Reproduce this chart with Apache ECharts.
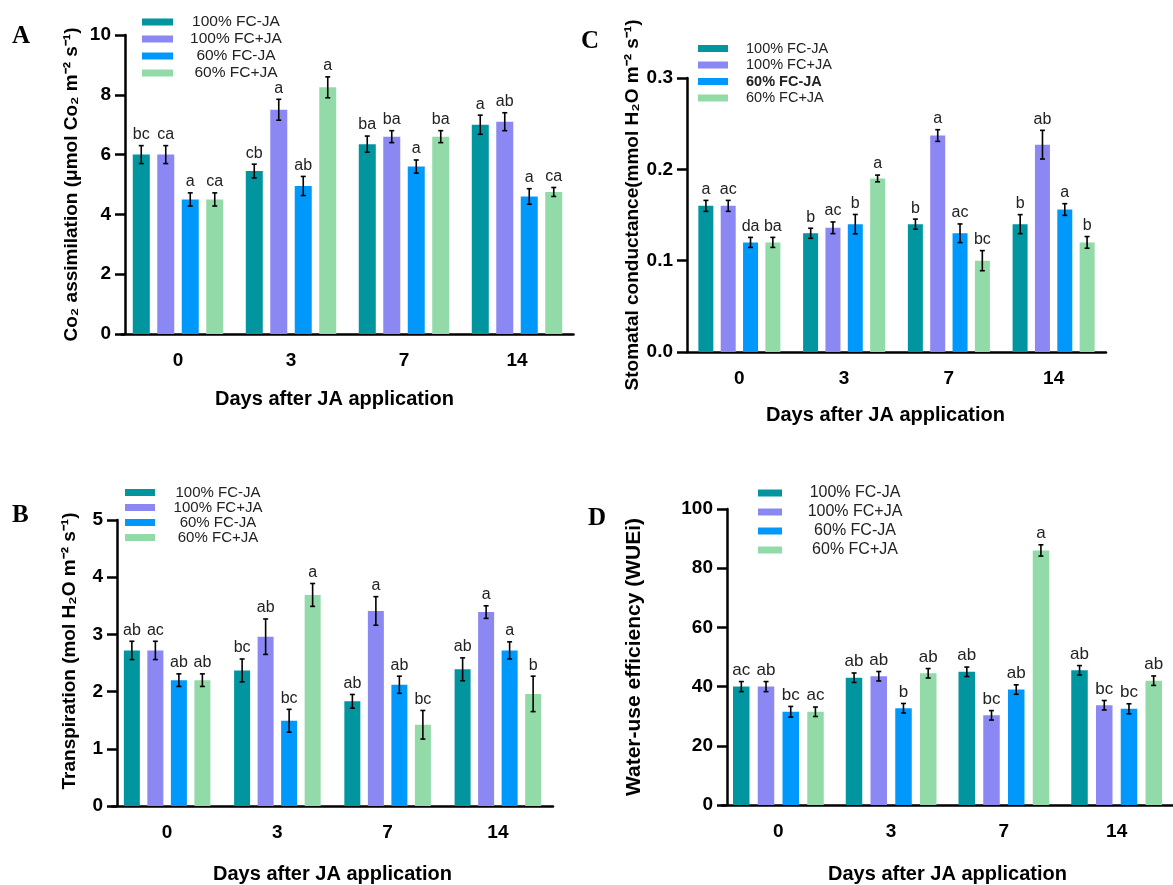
<!DOCTYPE html>
<html>
<head>
<meta charset="utf-8">
<script src="https://cdn.jsdelivr.net/npm/echarts@6/dist/echarts.min.js"></script>
<style>
  html, body { margin: 0; padding: 0; background: #fff; }
  #chart { width: 1173px; height: 885px; }
</style>
</head>
<body>
<div id="chart"></div>
<script>
// categories and treatments
const days = ['0', '3', '7', '14'];
const groups = ['100% FC-JA', '100% FC+JA', '60% FC-JA', '60% FC+JA'];

// A - CO2 assimilation (one row per treatment, one column per day)
const co2Mean = [[6.0, 5.45, 6.35, 7.0], [6.0, 7.5, 6.6, 7.1], [4.5, 4.95, 5.6, 4.6], [4.5, 8.25, 6.6, 4.75]];
const co2Err = [[0.3, 0.23, 0.27, 0.32], [0.3, 0.35, 0.2, 0.3], [0.22, 0.32, 0.22, 0.26], [0.22, 0.35, 0.2, 0.15]];
const co2Letters = [['bc', 'cb', 'ba', 'a'], ['ca', 'a', 'ba', 'ab'], ['a', 'ab', 'a', 'a'], ['ca', 'a', 'ba', 'ca']];

// B - transpiration
const trMean = [[2.72, 2.37, 1.83, 2.39], [2.72, 2.96, 3.41, 3.39], [2.2, 1.49, 2.12, 2.72], [2.2, 3.69, 1.42, 1.96]];
const trErr = [[0.16, 0.2, 0.12, 0.2], [0.16, 0.31, 0.25, 0.11], [0.11, 0.2, 0.15, 0.15], [0.11, 0.2, 0.25, 0.31]];
const trLetters = [['ab', 'bc', 'ab', 'ab'], ['ac', 'ab', 'a', 'a'], ['ab', 'bc', 'ab', 'a'], ['ab', 'a', 'bc', 'b']];

// C - stomatal conductance
const gsMean = [[0.16, 0.13, 0.14, 0.14], [0.16, 0.136, 0.237, 0.227], [0.12, 0.14, 0.13, 0.156], [0.12, 0.19, 0.10, 0.12]];
const gsErr = [[0.006, 0.0055, 0.0055, 0.0104], [0.006, 0.0064, 0.0064, 0.0157], [0.0055, 0.0106, 0.0102, 0.0064], [0.0055, 0.0037, 0.011, 0.0064]];
const gsLetters = [['a', 'b', 'b', 'b'], ['ac', 'ac', 'a', 'ab'], ['da', 'b', 'ac', 'a'], ['ba', 'a', 'bc', 'b']];

// D - water-use efficiency
const wueMean = [[40, 43, 45, 45.5], [40, 43.5, 30.3, 33.7], [31.5, 32.7, 39, 32.5], [31.5, 44.5, 86, 42]];
const wueErr = [[1.7, 1.6, 1.6, 1.6], [1.7, 1.6, 1.6, 1.6], [1.8, 1.6, 1.6, 1.7], [1.6, 1.6, 1.9, 1.6]];
const wueLetters = [['ac', 'ab', 'ab', 'ab'], ['ab', 'ab', 'bc', 'bc'], ['bc', 'b', 'ab', 'bc'], ['ac', 'ab', 'a', 'ab']];

const colors = ['#00959f', '#8b88f3', '#0099fb', '#92dba9'];
const FONT = "'Liberation Sans', Arial, sans-serif";

const panels = [
  { letter: 'A', mean: co2Mean, err: co2Err, letters: co2Letters,
    grid: { left: 121.5, top: 35, width: 452, height: 299 }, yOffset: -3.5,
    max: 10, interval: 2, digits: 0, barWidth: 17, pitch: 24.5,
    yName: 'Co₂ assimilation (μmol Co₂ m⁻² s⁻¹)', yGap: 44, yFont: 19, yPad: [0, 0, 0, 0],
    xGap: 55, xPad: [0, 26, 0, 0],
    letterPos: { left: 12, top: 24 },
    legend: { left: 142, top: 14, itemWidth: 31, itemGap: 1, textWidth: 116, align: 'center', fontSize: 15.5 } },
  { letter: 'B', mean: trMean, err: trErr, letters: trLetters,
    grid: { left: 112, top: 520, width: 441, height: 289 }, yOffset: -5,
    max: 5, interval: 1, digits: 0, barWidth: 16, pitch: 23.5,
    yName: 'Transpiration (mol H₂O m⁻² s⁻¹)', yGap: 38, yFont: 19, yPad: [0, 0, 0, 24],
    xGap: 58, xPad: [0, 0, 0, 0],
    letterPos: { left: 12, top: 503 },
    legend: { left: 125, top: 485, itemWidth: 30, itemGap: 0, textWidth: 116, align: 'center', fontSize: 15 } },
  { letter: 'C', mean: gsMean, err: gsErr, letters: gsLetters,
    grid: { left: 687, top: 78, width: 419, height: 274 }, yOffset: 0,
    max: 0.3, interval: 0.1, digits: 1, barWidth: 15, pitch: 22.3,
    yName: 'Stomatal conductance(mmol H₂O m⁻² s⁻¹)', yGap: 42, yFont: 19, yPad: [0, 0, 0, 20],
    xGap: 53, xPad: [0, 22, 0, 0],
    letterPos: { left: 581, top: 29 },
    legend: { left: 698, top: 41, itemWidth: 30, itemGap: 1.5, textWidth: 100, align: 'left', fontSize: 14.5, padLeft: 13 } },
  { letter: 'D', mean: wueMean, err: wueErr, letters: wueLetters,
    grid: { left: 722, top: 509, width: 459, height: 297 }, yOffset: -5,
    max: 100, interval: 20, digits: 0, barWidth: 16.5, pitch: 24.7,
    yName: 'Water-use efficiency (WUEi)', yGap: 82, yFont: 21, yPad: [0, 0, 0, 0],
    xGap: 59, xPad: [0, 0, 0, 0],
    letterPos: { left: 588, top: 506 },
    legend: { left: 758, top: 485, itemWidth: 24, itemGap: 3, textWidth: 136, align: 'center', fontSize: 16 } }
];

const option = {
  backgroundColor: '#fff',
  animation: false,
  title: [],
  legend: [],
  grid: [],
  xAxis: [],
  yAxis: [],
  series: []
};

panels.forEach((p, k) => {
  option.title.push({
    text: p.letter, left: p.letterPos.left, top: p.letterPos.top, padding: 0,
    textStyle: { fontFamily: "'Liberation Serif', 'Times New Roman', serif", fontWeight: 'bold', fontSize: 25, color: '#000' }
  });

  const lg = p.legend;
  option.legend.push({
    orient: 'vertical', left: lg.left, top: lg.top, padding: 0,
    icon: 'rect', itemWidth: lg.itemWidth, itemHeight: 7, itemGap: lg.itemGap,
    selectedMode: false,
    data: groups,
    formatter: name => (p.letter === 'C' && name === '60% FC-JA') ? '{b|' + name + '}' : '{t|' + name + '}',
    textStyle: {
      rich: {
        t: { width: lg.textWidth, align: lg.align, fontSize: lg.fontSize, lineHeight: lg.fontSize + 1,
             fontFamily: FONT, color: '#222', padding: [0, 0, 0, lg.padLeft || 0] },
        b: { width: lg.textWidth, align: lg.align, fontSize: lg.fontSize, lineHeight: lg.fontSize + 1,
             fontFamily: FONT, fontWeight: 'bold', color: '#222', padding: [0, 0, 0, lg.padLeft || 0] }
      }
    }
  });

  option.grid.push(p.grid);

  option.xAxis.push({
    gridIndex: k, type: 'category', data: days,
    axisLine: { lineStyle: { color: '#000', width: 2.5 } },
    axisTick: { alignWithLabel: true, length: 10, lineStyle: { color: '#000', width: 2.5 } },
    axisLabel: { color: '#000', fontWeight: 'bold', fontSize: 19, fontFamily: FONT, margin: 17 },
    name: 'Days after JA application', nameLocation: 'middle', nameGap: p.xGap,
    nameTextStyle: { color: '#000', fontWeight: 'bold', fontSize: 20, fontFamily: FONT, padding: p.xPad }
  });

  option.yAxis.push({
    gridIndex: k, type: 'value', min: 0, max: p.max, interval: p.interval, offset: p.yOffset,
    axisLine: { show: true, lineStyle: { color: '#000', width: 2.5 } },
    axisTick: { show: true, length: 10, lineStyle: { color: '#000', width: 2.5 } },
    axisLabel: { color: '#000', fontWeight: 'bold', fontSize: 19, fontFamily: FONT, margin: 14,
                 formatter: v => v.toFixed(p.digits) },
    splitLine: { show: false },
    name: p.yName, nameLocation: 'middle', nameGap: p.yGap,
    nameTextStyle: { color: '#000', fontWeight: 'bold', fontSize: p.yFont, fontFamily: FONT, padding: p.yPad }
  });

  const gapPct = Math.round((p.pitch - p.barWidth) / p.barWidth * 100) + '%';
  groups.forEach((g, s) => {
    option.series.push({
      name: g, type: 'bar', xAxisIndex: k, yAxisIndex: k,
      barWidth: p.barWidth, barGap: gapPct,
      itemStyle: { color: colors[s] },
      data: p.mean[s]
    });
  });

  // error bars + significance letters
  const errData = [];
  const letterList = [];
  groups.forEach((g, s) => {
    days.forEach((d, c) => {
      errData.push([c, s, p.mean[s][c], p.err[s][c]]);
      letterList.push(p.letters[s][c]);
    });
  });
  option.series.push({
    type: 'custom', xAxisIndex: k, yAxisIndex: k, z: 10,
    encode: { x: 0, y: 2 },
    data: errData,
    renderItem: (params, api) => {
      const c = api.value(0), s = api.value(1), m = api.value(2), e = api.value(3);
      const x = api.coord([c, m])[0] + (s - 1.5) * p.pitch;
      const yTop = api.coord([c, m + e])[1];
      const yBot = api.coord([c, m - e])[1];
      const ls = { stroke: '#000', lineWidth: 1.6 };
      return {
        type: 'group',
        children: [
          { type: 'line', shape: { x1: x, y1: yTop, x2: x, y2: yBot }, style: ls },
          { type: 'line', shape: { x1: x - 2.5, y1: yTop, x2: x + 2.5, y2: yTop }, style: ls },
          { type: 'line', shape: { x1: x - 2.5, y1: yBot, x2: x + 2.5, y2: yBot }, style: ls },
          { type: 'text', x: x, y: yTop - 3,
            style: { text: letterList[params.dataIndex], textAlign: 'center', textVerticalAlign: 'bottom',
                     fontSize: p.letter === 'D' ? 17 : 16, fontFamily: FONT, fill: '#222' } }
        ]
      };
    }
  });
});

const chart = echarts.init(document.getElementById('chart'));
chart.setOption(option);
window.addEventListener('resize', () => chart.resize());
</script>
</body>
</html>
